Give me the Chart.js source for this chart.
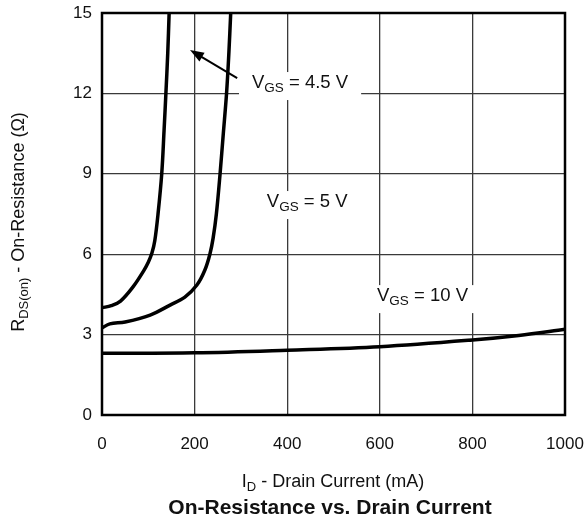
<!DOCTYPE html>
<html>
<head>
<meta charset="utf-8">
<script src="https://cdn.jsdelivr.net/npm/chart.js@4"></script>
<style>
  body { margin: 0; background: #fff; }
  canvas { display: block; }
</style>
</head>
<body>
<canvas id="rdsChart" width="586" height="521"></canvas>
<script>
  // values
  const currentVgs45 = [0, 20, 40, 67, 89, 100, 108, 114, 121, 129, 134, 138, 142, 145];
  const rdsVgs45 = [4.0, 4.08, 4.25, 4.78, 5.35, 5.7, 6.05, 6.5, 7.5, 9.0, 10.6, 12.0, 13.5, 15.0];
  const currentVgs5 = [0, 17, 50, 104, 147, 179, 205, 222, 233, 240, 247, 255, 262, 269, 274, 278];
  const rdsVgs5 = [3.25, 3.4, 3.47, 3.73, 4.1, 4.4, 4.85, 5.4, 6.0, 6.6, 7.5, 9.0, 10.5, 12.0, 13.5, 15.0];
  const currentVgs10 = [0, 200, 400, 600, 800, 900, 1000];
  const rdsVgs10 = [2.3, 2.32, 2.42, 2.55, 2.8, 2.97, 3.2];

  const xTicks = [0, 200, 400, 600, 800, 1000];
  const yTicks = [0, 3, 6, 9, 12, 15];

  const labelTexts = ['4.5 V', '5 V', '10 V'];
  const labelX = [324, 356, 594];
  const labelY = [12.2, 7.76, 4.25];
  const arrowFrom = [292, 12.57];
  const arrowTo = [190, 13.62];

  const FONT = '"Liberation Sans", Arial, Helvetica, sans-serif';

  function pairs(xs, ys) {
    return xs.map((x, i) => ({ x: x, y: ys[i] }));
  }

  function richWidth(ctx, parts) {
    let w = 0;
    parts.forEach(p => {
      ctx.font = (p.bold ? 'bold ' : '') + p.size + 'px ' + FONT;
      w += ctx.measureText(p.t).width;
    });
    return w;
  }

  function drawRich(ctx, parts, x, y) {
    parts.forEach(p => {
      ctx.font = (p.bold ? 'bold ' : '') + p.size + 'px ' + FONT;
      ctx.fillText(p.t, x, y + (p.dy || 0));
      x += ctx.measureText(p.t).width;
    });
  }

  function vgsParts(v) {
    return [{ t: 'V', size: 18.5 }, { t: 'GS', size: 13.5, dy: 4 }, { t: ' = ' + v, size: 18.5 }];
  }

  const annotations = {
    id: 'annotations',
    beforeDatasetsDraw(chart) {
      const ctx = chart.ctx;
      const xs = chart.scales.x, ys = chart.scales.y;
      ctx.save();
      ctx.fillStyle = '#fff';
      labelTexts.forEach((txt, i) => {
        const w = richWidth(ctx, vgsParts(txt));
        const px = xs.getPixelForValue(labelX[i]);
        const py = ys.getPixelForValue(labelY[i]);
        ctx.fillRect(px - 13, py - 16, w + 26, 28);
      });
      ctx.restore();
    },
    afterDatasetsDraw(chart) {
      const ctx = chart.ctx;
      const xs = chart.scales.x, ys = chart.scales.y;
      const a = chart.chartArea;
      ctx.save();
      ctx.fillStyle = '#111';
      ctx.textBaseline = 'alphabetic';
      ctx.textAlign = 'left';
      labelTexts.forEach((txt, i) => {
        drawRich(ctx, vgsParts(txt), xs.getPixelForValue(labelX[i]), ys.getPixelForValue(labelY[i]));
      });

      // arrow pointing at the 4.5 V curve
      const x1 = xs.getPixelForValue(arrowFrom[0]), y1 = ys.getPixelForValue(arrowFrom[1]);
      const x2 = xs.getPixelForValue(arrowTo[0]), y2 = ys.getPixelForValue(arrowTo[1]);
      const ang = Math.atan2(y2 - y1, x2 - x1);
      ctx.strokeStyle = '#000';
      ctx.lineWidth = 2;
      ctx.beginPath();
      ctx.moveTo(x1, y1);
      ctx.lineTo(x2 - 10 * Math.cos(ang), y2 - 10 * Math.sin(ang));
      ctx.stroke();
      ctx.fillStyle = '#000';
      ctx.beginPath();
      ctx.moveTo(x2, y2);
      ctx.lineTo(x2 - 14 * Math.cos(ang) + 5 * Math.sin(ang), y2 - 14 * Math.sin(ang) - 5 * Math.cos(ang));
      ctx.lineTo(x2 - 14 * Math.cos(ang) - 5 * Math.sin(ang), y2 - 14 * Math.sin(ang) + 5 * Math.cos(ang));
      ctx.closePath();
      ctx.fill();

      // plot frame
      ctx.lineWidth = 2.5;
      ctx.strokeRect(a.left, a.top, a.right - a.left, a.bottom - a.top);
      ctx.restore();
    },
    afterDraw(chart) {
      const ctx = chart.ctx;
      ctx.save();
      ctx.fillStyle = '#111';
      ctx.textBaseline = 'alphabetic';

      const xt = [{ t: 'I', size: 18 }, { t: 'D', size: 13, dy: 4 }, { t: ' - Drain Current (mA)', size: 18 }];
      drawRich(ctx, xt, 333 - richWidth(ctx, xt) / 2, 487);

      ctx.save();
      ctx.translate(24, 222);
      ctx.rotate(-Math.PI / 2);
      const yt = [{ t: 'R', size: 18 }, { t: 'DS(on)', size: 13, dy: 4 }, { t: ' - On-Resistance (\u03A9)', size: 18 }];
      drawRich(ctx, yt, -richWidth(ctx, yt) / 2, 0);
      ctx.restore();

      ctx.beginPath();
      ctx.rect(0, 499, 586, 22);
      ctx.clip();
      const tt = [{ t: 'On-Resistance vs. Drain Current', size: 21, bold: true }];
      drawRich(ctx, tt, 330 - richWidth(ctx, tt) / 2, 514);
      ctx.restore();
    }
  };

  const gridStyle = { color: '#3a3a3a', lineWidth: 1.3, drawTicks: false };
  const tickFont = { family: FONT, size: 17 };

  new Chart(document.getElementById('rdsChart'), {
    type: 'line',
    data: {
      datasets: [
        { label: 'VGS = 4.5 V', data: pairs(currentVgs45, rdsVgs45) },
        { label: 'VGS = 5 V', data: pairs(currentVgs5, rdsVgs5) },
        { label: 'VGS = 10 V', data: pairs(currentVgs10, rdsVgs10) }
      ].map(d => Object.assign(d, {
        borderColor: '#000',
        borderWidth: 3.5,
        pointRadius: 0,
        fill: false,
        tension: 0.35
      }))
    },
    options: {
      responsive: false,
      animation: false,
      layout: { padding: { top: 13, right: 21, left: 0, bottom: 0 } },
      plugins: { legend: { display: false }, tooltip: { enabled: false } },
      scales: {
        x: {
          type: 'linear',
          min: xTicks[0],
          max: xTicks[xTicks.length - 1],
          afterBuildTicks: s => { s.ticks = xTicks.map(v => ({ value: v })); },
          afterFit: s => { s.height = 106; s.paddingLeft = 0; s.paddingRight = 0; },
          grid: gridStyle,
          border: { display: false },
          ticks: { color: '#111', font: tickFont, padding: 19, maxRotation: 0, callback: v => String(v) }
        },
        y: {
          type: 'linear',
          min: yTicks[0],
          max: yTicks[yTicks.length - 1],
          afterBuildTicks: s => { s.ticks = yTicks.map(v => ({ value: v })); },
          afterFit: s => { s.width = 102; s.paddingTop = 0; s.paddingBottom = 0; },
          grid: gridStyle,
          border: { display: false },
          ticks: { color: '#111', font: tickFont, padding: 10, callback: v => String(v) }
        }
      }
    },
    plugins: [annotations]
  });
</script>
</body>
</html>
